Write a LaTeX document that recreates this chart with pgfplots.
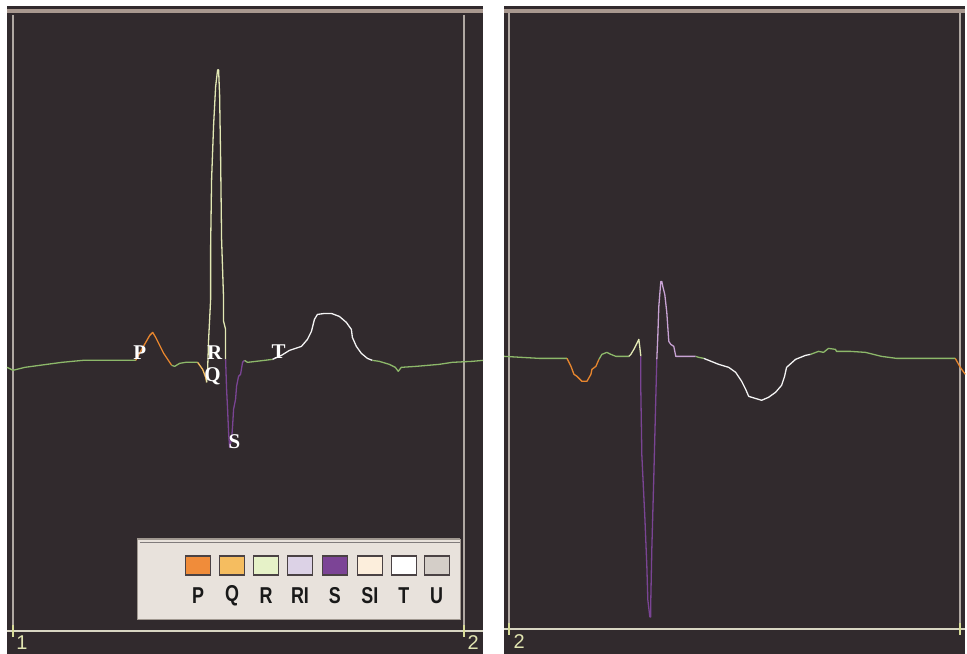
\documentclass[border=0pt]{standalone}
\usepackage{pgfplots}
\pgfplotsset{compat=1.18}
\usepackage{fontspec}
\setmainfont{Liberation Serif}
\setsansfont{Liberation Sans}
\definecolor{bg}{HTML}{312A2D}
\definecolor{frame}{HTML}{A8988F}
\definecolor{vline}{HTML}{B0A8A2}
\definecolor{hline}{HTML}{D8D6C2}
\definecolor{tickc}{HTML}{D8DC98}
\definecolor{labc}{HTML}{E0E4B0}
\definecolor{ecggreen}{HTML}{8DB86A}
\definecolor{ecgp}{HTML}{E8862E}
\definecolor{ecgq}{HTML}{F5BD60}
\definecolor{ecgr}{HTML}{E2E8B4}
\definecolor{ecgs}{HTML}{7A4494}
\definecolor{ecgri}{HTML}{C8A2D4}
\definecolor{ecgt}{HTML}{F4F4F4}
\definecolor{legbg}{HTML}{E8E2DC}
\definecolor{legborder}{HTML}{A09890}
\definecolor{swborder}{HTML}{4A4244}
\definecolor{swP}{HTML}{F08C3A}
\definecolor{swQ}{HTML}{F5BD60}
\definecolor{swR}{HTML}{E6F2C8}
\definecolor{swRI}{HTML}{DCD2E6}
\definecolor{swS}{HTML}{7C4496}
\definecolor{swSI}{HTML}{FCEEDC}
\definecolor{swT}{HTML}{FFFFFF}
\definecolor{swU}{HTML}{D4CEC8}
\pgfplotsset{
  panel/.style={anchor=south west, scale only axis, y dir=reverse,
    axis lines=none, clip=false, ymin=6, ymax=655, height=649pt},
  ecg/.style={line width=1.3pt, line join=round, mark=none},
}
\newcommand{\wlab}[3]{\node[text=white, font=\fontsize{21}{21}\selectfont\bfseries] at (axis cs:#1,#2) {#3};}
\newcommand{\swatch}[3]{%
  \filldraw[fill=#2, draw=swborder, line width=1.2pt] (axis cs:#1,557) rectangle (axis cs:#1+25,576);
  \node[text=black!90, font=\sffamily\bfseries\fontsize{23}{23}\selectfont, xscale=0.78] at (axis cs:#1+12.5,597) {#3};}
\begin{document}
\begin{tikzpicture}[x=1pt,y=1pt]
\fill[white] (0,0) rectangle (967,655);
\fill[bg] (7,0) rectangle (484,649);
\fill[bg] (505,0) rectangle (967,649);
% ---------------- left panel ----------------
\begin{axis}[panel, at={(7pt,0pt)}, width=477pt, xmin=7, xmax=484]
\draw[frame, line width=3.5pt] (axis cs:7,11) -- (axis cs:484,11);
\draw[vline, line width=2pt] (axis cs:13,15) -- (axis cs:13,632);
\draw[vline, line width=2pt] (axis cs:465,15) -- (axis cs:465,632);
\draw[hline, line width=1.6pt] (axis cs:7,632) -- (axis cs:484,632);
\draw[tickc, line width=1.6pt] (axis cs:13,626) -- (axis cs:13,638);
\draw[tickc, line width=1.6pt] (axis cs:465,626) -- (axis cs:465,638);
\node[text=labc, font=\sffamily\fontsize{20}{20}\selectfont] at (axis cs:22,644) {1};
\node[text=labc, font=\sffamily\fontsize{20}{20}\selectfont] at (axis cs:474,644) {2};
% legend box
\fill[legbg] (axis cs:138,540) rectangle (axis cs:461,621);
\draw[legborder, line width=1.2pt] (axis cs:138,621) -- (axis cs:138,540) -- (axis cs:461,540);
\draw[swborder!70, line width=0.8pt] (axis cs:140,543) -- (axis cs:461,543);
\draw[legborder, line width=1.2pt] (axis cs:461,540) -- (axis cs:461,621) -- (axis cs:138,621);
\swatch{186}{swP}{P}
\swatch{220}{swQ}{Q}
\swatch{254}{swR}{R}
\swatch{288}{swRI}{RI}
\swatch{323}{swS}{S}
\swatch{358}{swSI}{SI}
\swatch{392}{swT}{T}
\swatch{425}{swU}{U}
% traces
\addplot[ecg, ecggreen] coordinates {(7,368) (13,371) (25,368) (47,365) (62,363) (83,361) (123,361) (136,361)};
\addplot[ecg, ecgp] coordinates {(136,361) (142,350) (146,343) (150,336) (153,333) (156,338) (160,346) (164,354) (168,360) (172,366)};
\addplot[ecg, ecggreen] coordinates {(172,366) (175,367) (180,364) (186,363) (198,363)};
\addplot[ecg, ecgq] coordinates {(198,363) (203,370) (206,378) (207,383)};
\addplot[ecg, ecgr] coordinates {(207,383) (208,370) (209,340) (211,300) (211,247) (212,179) (214,125) (216,87) (218,70) (219,70) (220,95) (221,157) (222,240) (224,300) (224,322) (226,330) (226,360)};
\addplot[ecg, ecgs] coordinates {(226,360) (227,390) (228,410) (229,433) (230,448) (232,440) (233,427) (234,410) (236,400) (237,387) (239,377) (241,375) (243,363) (245,361)};
\addplot[ecg, ecggreen] coordinates {(245,361) (248,363) (265,361) (273,360)};
\addplot[ecg, ecgt] coordinates {(273,360) (282,356) (290,351) (296,349) (302,347) (308,340) (312,332) (315,320) (318,315) (325,314) (332,314) (340,317) (347,323) (352,330) (353,338) (357,347) (362,354) (368,359) (373,361)};
\addplot[ecg, ecggreen] coordinates {(373,361) (380,362) (390,365) (396,368) (399,372) (402,368) (417,367) (440,365) (453,363) (473,362) (484,361)};
\wlab{140}{353}{P}
\wlab{215}{353}{R}
\wlab{213}{377}{Q}
\wlab{235}{442}{S}
\wlab{279}{352}{T}
\end{axis}
% ---------------- right panel ----------------
\begin{axis}[panel, at={(505pt,0pt)}, width=462pt, xmin=505, xmax=967]
\draw[frame, line width=3.5pt] (axis cs:505,11) -- (axis cs:967,11);
\draw[vline, line width=2pt] (axis cs:510,13) -- (axis cs:510,630);
\draw[vline, line width=2pt] (axis cs:962,13) -- (axis cs:962,630);
\draw[hline, line width=1.6pt] (axis cs:505,630) -- (axis cs:967,630);
\draw[tickc, line width=1.6pt] (axis cs:510,624) -- (axis cs:510,636);
\draw[tickc, line width=1.6pt] (axis cs:962,624) -- (axis cs:962,636);
\node[text=labc, font=\sffamily\fontsize{20}{20}\selectfont] at (axis cs:520,643) {2};
\addplot[ecg, ecggreen] coordinates {(505,357) (540,359) (568,359)};
\addplot[ecg, ecgp] coordinates {(568,359) (572,367) (575,375) (578,377) (583,382) (588,382) (592,375) (593,370) (597,367) (600,360)};
\addplot[ecg, ecggreen] coordinates {(600,360) (603,355) (608,353) (612,355) (617,357) (630,357)};
\addplot[ecg, ecgr] coordinates {(630,357) (632,355) (635,350) (637,346) (640,340) (641,348) (642,357)};
\addplot[ecg, ecgs] coordinates {(642,357) (642,393) (643,456) (646,518) (648,567) (649,601) (651,618) (652,618) (652,600) (653,550) (655,477) (657,398) (658,360)};
\addplot[ecg, ecgri] coordinates {(658,360) (659,337) (660,307) (662,282) (663,282) (664,287) (666,295) (668,313) (670,342) (672,345) (675,347) (677,357) (697,357)};
\addplot[ecg, ecggreen] coordinates {(697,357) (700,358) (705,359)};
\addplot[ecg, ecgt] coordinates {(705,359) (710,361) (720,365) (730,368) (737,373) (743,382) (747,390) (750,397) (753,398) (763,401) (770,398) (777,393) (783,386) (786,377) (788,368) (797,360) (807,356) (812,355)};
\addplot[ecg, ecggreen] coordinates {(812,355) (820,352) (825,353) (830,349) (837,350) (838,352) (852,352) (867,353) (883,357) (898,359) (957,359)};
\addplot[ecg, ecgp] coordinates {(957,359) (962,368) (967,375)};
\end{axis}
\end{tikzpicture}
\end{document}
